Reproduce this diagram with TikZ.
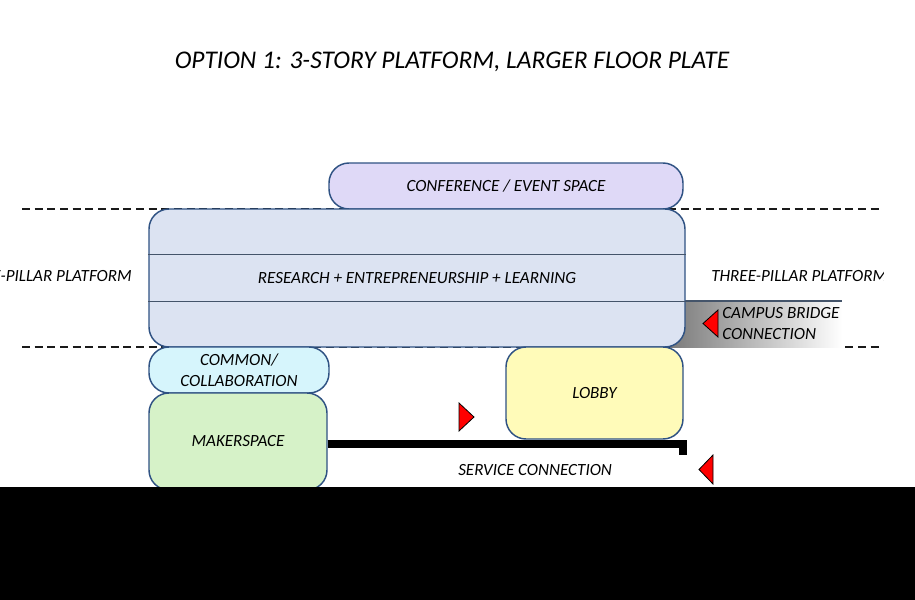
\documentclass[tikz,border=0pt]{standalone}
\usepackage{fontspec}
\setmainfont{Carlito}
\begin{document}
\begin{tikzpicture}[x=0.75pt,y=-0.75pt,
  lbl/.style={font=\itshape\fontsize{12.8pt}{15.5pt}\selectfont, text=black, inner sep=0pt},
  space/.style={draw=bordc, line width=1.1pt, rounded corners=15pt, lbl, align=center},
  divline/.style={draw=dashc, line width=1.1pt, dash pattern=on 6pt off 3.5pt},
  flag/.style={fill=red, draw=black, line width=0.6pt, line join=miter}]
\definecolor{bordc}{HTML}{2F5283}
\definecolor{dashc}{HTML}{1A1A1A}
\definecolor{confc}{HTML}{DFD9F7}
\definecolor{mainc}{HTML}{DCE3F2}
\definecolor{commc}{HTML}{D6F5FC}
\definecolor{makec}{HTML}{D6F2C8}
\definecolor{lobbc}{HTML}{FFFBB9}
\definecolor{innerc}{HTML}{44546A}
\useasboundingbox (0,0) rectangle (915,600);
\fill[white] (0,0) rectangle (915,600);
\clip (0,0) rectangle (915,600);

% title
\node[lbl, font=\itshape\fontsize{19.1pt}{22pt}\selectfont] (title) at (452,62) {OPTION 1: 3-STORY PLATFORM, LARGER FLOOR PLATE};

% level lines
\coordinate (l1a) at (22,209); \coordinate (l1b) at (882,209);
\coordinate (l2a) at (22,347); \coordinate (l2b) at (882,347);
\draw[divline] (l1a) -- (l1b);
\draw[divline] (l2a) -- (l2b);

% campus bridge gradient
\shade[left color=black!52, right color=white] (670,301) rectangle (842,347);
\coordinate (cbA) at (670,301); \coordinate (cbB) at (842,301);
\draw[innerc, line width=0.8pt] (cbA) -- (cbB);

% boxes
\node[space, fill=confc, minimum width=265.5pt, minimum height=34.5pt] (conf) at (506,186) {CONFERENCE / EVENT SPACE};
\node[space, fill=mainc, minimum width=402pt, minimum height=103.5pt] (main) at (417,278) {RESEARCH + ENTREPRENEURSHIP + LEARNING};
\draw[innerc, line width=0.6pt] ([yshift=-34.5pt]main.north west) -- ([yshift=-34.5pt]main.north east);
\draw[innerc, line width=0.6pt] ([yshift=34.5pt]main.south west) -- ([yshift=34.5pt]main.south east);
\node[space, fill=commc, minimum width=135pt, minimum height=34.5pt] (comm) at (239,370) {COMMON/\\COLLABORATION};
\node[space, fill=makec, minimum width=133.5pt, minimum height=72.75pt] (maker) at (238,441.5) {MAKERSPACE};
\node[space, fill=lobbc, minimum width=132.75pt, minimum height=69pt] (lobby) at (594.5,393) {LOBBY};

% platform labels (cut at the picture's edges as in the reference)
\node[lbl, anchor=east] (pl) at (132,276) {THREE-PILLAR PLATFORM};
\begin{scope}
\clip (0,0) rectangle (883,600);
\node[lbl, anchor=west] (pr) at (711,276) {THREE-PILLAR PLATFORM};
\end{scope}

% campus bridge label
\node[lbl, anchor=west, align=left] (cb) at (722,323.5) {CAMPUS BRIDGE\\CONNECTION};
\draw[flag] (718,310) -- (703,323.5) -- (718,337) -- cycle;

% service connection
\coordinate (svcend) at (683,455);
\draw[line width=6pt, line join=miter] ([yshift=-1.5pt]maker.east) -| (svcend);
\node[lbl, anchor=west] (svc) at (458,470) {SERVICE CONNECTION};
\draw[flag] (459,403) -- (474,417) -- (459,431) -- cycle;
\draw[flag] (713,455) -- (699,469.5) -- (713,484) -- cycle;

% black band
\fill[black] (0,487) rectangle (915,600);
\end{tikzpicture}
\end{document}
